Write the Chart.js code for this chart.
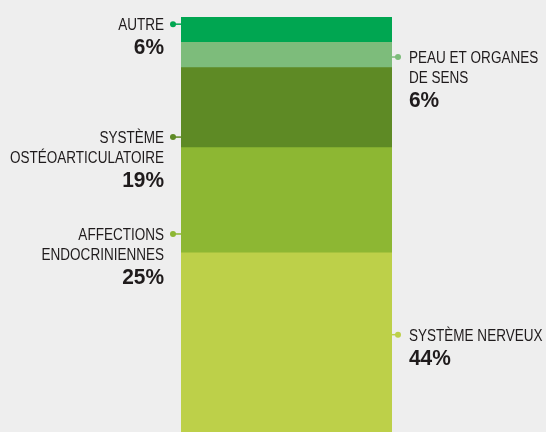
<!DOCTYPE html>
<html>
<head>
<meta charset="utf-8">
<script src="https://cdn.jsdelivr.net/npm/chart.js@4"></script>
<style>
  html, body { margin: 0; padding: 0; background: #eeeeee; }
  #wrap { width: 546px; height: 432px; }
</style>
</head>
<body>
<div id="wrap"><canvas id="chart"></canvas></div>
<script>
// stacked from bottom to top
const categories = ['SYSTÈME NERVEUX', 'AFFECTIONS ENDOCRINIENNES', 'SYSTÈME OSTÉOARTICULATOIRE', 'PEAU ET ORGANES DE SENS', 'AUTRE'];
const shares = [44, 25, 19, 6, 6];
const colors = ['#bdd049', '#8db733', '#5e8a25', '#7dbc7b', '#00a651'];

// label layout (side, text lines, where the dot sits along the axis)
const labelLines = [
  ['SYSTÈME NERVEUX'],
  ['AFFECTIONS', 'ENDOCRINIENNES'],
  ['SYSTÈME', 'OSTÉOARTICULATOIRE'],
  ['PEAU ET ORGANES', 'DE SENS'],
  ['AUTRE']
];
const labelSide = ['right', 'left', 'left', 'right', 'left'];
const labelAnchor = [24.6, 48.5, 71.5, 90.5, 98.3];

const TEXT = '#1f1b1c';
const SQUEEZE = 0.845;

function squeezedText(ctx, str, x, y, align, font, sx) {
  ctx.save();
  ctx.font = font;
  ctx.translate(x, y);
  ctx.scale(sx, 1);
  ctx.textAlign = align;
  ctx.textBaseline = 'alphabetic';
  ctx.fillText(str, 0, 0);
  ctx.restore();
}

const bgPlugin = {
  id: 'bg',
  beforeDraw(chart) {
    const ctx = chart.ctx;
    ctx.save();
    ctx.fillStyle = '#eeeeee';
    ctx.fillRect(0, 0, chart.width, chart.height);
    ctx.restore();
  }
};

const calloutPlugin = {
  id: 'callouts',
  afterDatasetsDraw(chart) {
    const ctx = chart.ctx;
    const yScale = chart.scales.y;
    categories.forEach((cat, i) => {
      const bar = chart.getDatasetMeta(i).data[0];
      const left = bar.x - bar.width / 2;
      const right = bar.x + bar.width / 2;
      const y = yScale.getPixelForValue(labelAnchor[i]);
      const isLeft = labelSide[i] === 'left';
      const edge = isLeft ? left : right;
      const dotX = isLeft ? edge - 8 : edge + 6;
      ctx.save();
      ctx.strokeStyle = colors[i];
      ctx.fillStyle = colors[i];
      ctx.lineWidth = 1.5;
      ctx.beginPath();
      ctx.moveTo(edge, y);
      ctx.lineTo(dotX, y);
      ctx.stroke();
      ctx.beginPath();
      ctx.arc(dotX, y, 3, 0, Math.PI * 2);
      ctx.fill();
      ctx.restore();

      ctx.fillStyle = TEXT;
      const tx = isLeft ? dotX - 9 : dotX + 11;
      const align = isLeft ? 'right' : 'left';
      let by = y + 6;
      labelLines[i].forEach((line, k) => {
        squeezedText(ctx, line, tx, by + k * 20, align, '16px "Liberation Sans", Arial, sans-serif', SQUEEZE);
      });
      by += (labelLines[i].length - 1) * 20 + 24;
      squeezedText(ctx, shares[i] + '%', tx, by, align, 'bold 22px "Liberation Sans", Arial, sans-serif', 0.95);
    });
  }
};

new Chart(document.getElementById('chart'), {
  type: 'bar',
  data: {
    labels: ['total'],
    datasets: categories.map((c, i) => ({
      label: c,
      data: [shares[i]],
      backgroundColor: colors[i],
      borderWidth: 0,
      barPercentage: 1,
      categoryPercentage: 1
    }))
  },
  options: {
    responsive: true,
    maintainAspectRatio: false,
    animation: false,
    layout: { padding: { top: 17, bottom: 0, left: 181, right: 154 } },
    plugins: { legend: { display: false }, tooltip: { enabled: false } },
    scales: {
      x: { stacked: true, display: false },
      // the original bar runs slightly past the bottom edge
      y: { stacked: true, display: false, min: 1.5, max: 100 }
    }
  },
  plugins: [bgPlugin, calloutPlugin]
});
</script>
</body>
</html>
